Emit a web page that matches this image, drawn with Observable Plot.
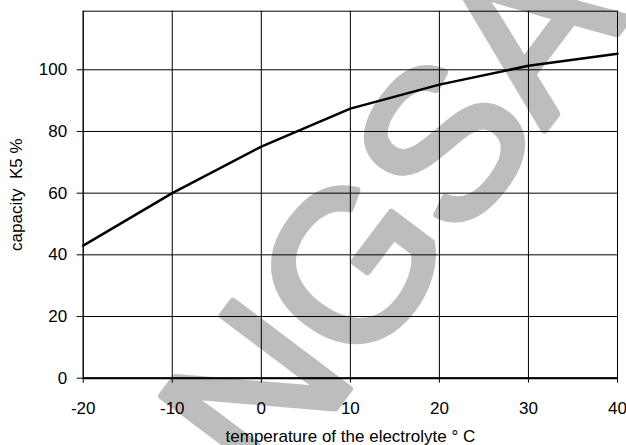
<!DOCTYPE html>
<html>
<head>
<meta charset="utf-8">
<script src="https://cdn.jsdelivr.net/npm/d3@7"></script>
<script src="https://cdn.jsdelivr.net/npm/@observablehq/plot@0.6"></script>
<style>
  html, body { margin: 0; padding: 0; background: #fff; }
</style>
</head>
<body>
<div id="chart"></div>
<script>
const temperatures = [-20, -10, 0, 10, 20, 30, 40];
const capacity = [43, 60, 75.1, 87.4, 95.2, 101.3, 105.2];
const xTicks = [-20, -10, 0, 10, 20, 30, 40];
const yTicks = [0, 20, 40, 60, 80, 100];
const xLabel = "temperature of the electrolyte \u00b0 C";
const yLabel = "capacity\u00a0\u00a0K5 %";
const watermark = ["NGSA"];

const data = temperatures.map((t, i) => ({t, c: capacity[i]}));
const font = "'Liberation Sans', Arial, sans-serif";

const chart = Plot.plot({
  width: 626,
  height: 445,
  marginLeft: 82.7,
  marginRight: 9,
  marginTop: 10.7,
  marginBottom: 67.3,
  style: {fontFamily: font, fontSize: "17px", background: "#fff", color: "#000", overflow: "visible"},
  x: {domain: [-20, 40]},
  y: {domain: [0, 119]},
  marks: [
    Plot.text(watermark, {
      text: d => d, frameAnchor: "middle", dx: 44, dy: 22, rotate: -53,
      fontSize: 212, fontWeight: "normal", fill: "#bdbdbd", stroke: "#bdbdbd", strokeWidth: 7,
      strokeLinejoin: "round", fontFamily: font
    }),
    Plot.gridX(xTicks, {stroke: "#000", strokeOpacity: 1, strokeWidth: 1}),
    Plot.gridY(yTicks, {stroke: "#000", strokeOpacity: 1, strokeWidth: 1}),
    Plot.frame({stroke: "#000", strokeWidth: 1}),
    Plot.ruleY([0], {stroke: "#000", strokeWidth: 2}),
    Plot.axisX({ticks: xTicks, tickFormat: d => String(d), tickSize: 5, tickPadding: 19, fontSize: 17,
      label: xLabel, labelAnchor: "center", labelArrow: "none", labelOffset: 64}),
    Plot.axisY({ticks: yTicks, tickFormat: d => String(d), tickSize: 6, tickPadding: 10, fontSize: 17,
      label: yLabel, labelAnchor: "center", labelArrow: "none", labelOffset: 73}),
    Plot.line(data, {x: "t", y: "c", stroke: "#000", strokeWidth: 2.5})
  ]
});
document.getElementById("chart").appendChild(chart);
</script>
</body>
</html>
